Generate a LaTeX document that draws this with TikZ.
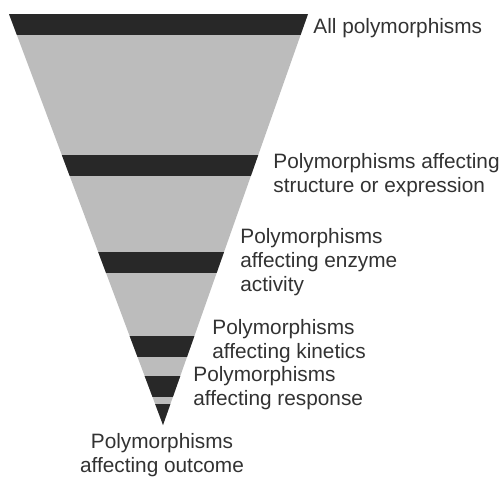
\documentclass[tikz,border=0pt]{standalone}
\usepackage{fontspec}
\setmainfont{Liberation Sans}
\usepackage{tikz}
\usetikzlibrary{positioning}

\definecolor{funnelgrey}{RGB}{188,188,188}
\definecolor{bandgrey}{RGB}{40,40,40}
\definecolor{textgrey}{RGB}{50,50,50}

\begin{document}
\begin{tikzpicture}[
    x=0.5pt, y=-0.5pt,
    label/.style={anchor=west, align=left, inner sep=0pt, text=textgrey,
        font=\fontsize{10.4pt}{12pt}\selectfont},
    band/.style={fill=bandgrey}
]
\useasboundingbox (0,0) rectangle (502,477);

% Funnel
\coordinate (tl) at (9,14);
\coordinate (tr) at (308,14);
\coordinate (apex) at (163,425);
\fill[funnelgrey] (tl) -- (tr) -- (apex) -- cycle;

% Bands
\begin{scope}
\clip (tl) -- (tr) -- (apex) -- cycle;
\fill[band] (0,14) rectangle (502,35);
\fill[band] (0,155) rectangle (502,176);
\fill[band] (0,252) rectangle (502,273);
\fill[band] (0,336) rectangle (502,357);
\fill[band] (0,376) rectangle (502,397);
\fill[band] (0,404) rectangle (502,426);
\end{scope}

% Labels
\node[label] (all) at (313,28) {All polymorphisms};
\node[label] (struct) at (273,175) {Polymorphisms affecting\\structure or expression};
\node[label] (enzyme) at (240,262) {Polymorphisms\\affecting enzyme\\activity};
\node[label] (kinetics) at (212,341) {Polymorphisms\\affecting kinetics};
\node[label] (response) at (193,388) {Polymorphisms\\affecting response};
\node[label, anchor=center, align=center] (outcome) at (162,455) {Polymorphisms\\affecting outcome};

\end{tikzpicture}
\end{document}
